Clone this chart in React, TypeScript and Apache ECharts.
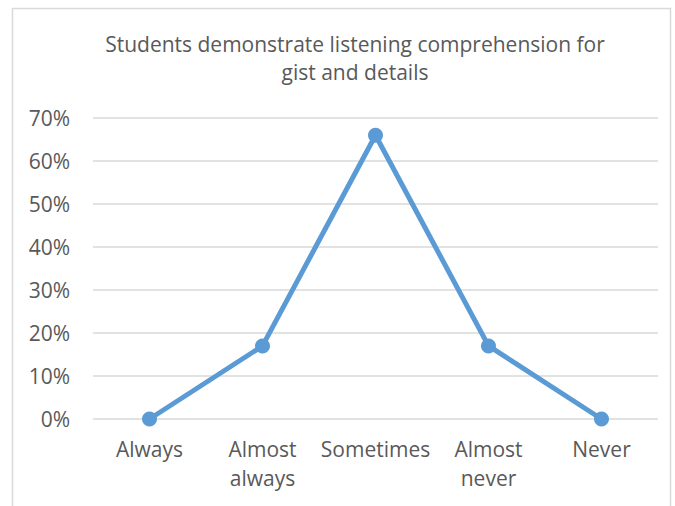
import React, { useEffect, useRef } from "react";
import * as echarts from "echarts";

const categories = ["Always", "Almost\nalways", "Sometimes", "Almost\nnever", "Never"];
const values = [0, 17, 66, 17, 0];
const titleText = "Students demonstrate listening comprehension for\ngist and details";

export default function App() {
  const ref = useRef<HTMLDivElement>(null);
  useEffect(() => {
    if (!ref.current) return;
    const chart = echarts.init(ref.current, null, { renderer: "svg" });
    chart.setOption({
      animation: false,
      backgroundColor: "#ffffff",
      title: {
        text: titleText,
        left: 350,
        top: 25,
        textAlign: "center",
        textStyle: {
          fontFamily: "Open Sans",
          fontSize: 21,
          fontWeight: "normal",
          color: "#595959",
          lineHeight: 28,
          align: "center",
        },
      },
      graphic: [
        {
          type: "rect",
          left: 10,
          top: 6,
          shape: { width: 658, height: 520 },
          style: { fill: "none", stroke: "#d9d9d9", lineWidth: 1.5 },
          silent: true,
        },
      ],
      grid: { left: 93, right: 17, top: 118, bottom: 87 },
      xAxis: {
        type: "category",
        data: categories,
        boundaryGap: true,
        axisLine: { show: false },
        axisTick: { show: false },
        axisLabel: {
          fontFamily: "Open Sans",
          fontSize: 21,
          color: "#595959",
          lineHeight: 29,
          margin: 15,
          interval: 0,
        },
      },
      yAxis: {
        type: "value",
        min: 0,
        max: 70,
        interval: 10,
        axisLine: { show: false },
        axisTick: { show: false },
        axisLabel: {
          fontFamily: "Open Sans",
          fontSize: 21,
          color: "#595959",
          margin: 23,
          formatter: (v: number) => v + "%",
        },
        splitLine: { lineStyle: { color: "#d9d9d9", width: 1.5 } },
      },
      series: [
        {
          type: "line",
          data: values,
          symbol: "circle",
          symbolSize: 15,
          lineStyle: { color: "#5b9bd5", width: 5 },
          itemStyle: { color: "#5b9bd5" },
        },
      ],
    });
    return () => chart.dispose();
  }, []);
  return (
    <div
      ref={ref}
      style={{ position: "fixed", left: 0, top: 0, width: 675, height: 506 }}
    />
  );
}
